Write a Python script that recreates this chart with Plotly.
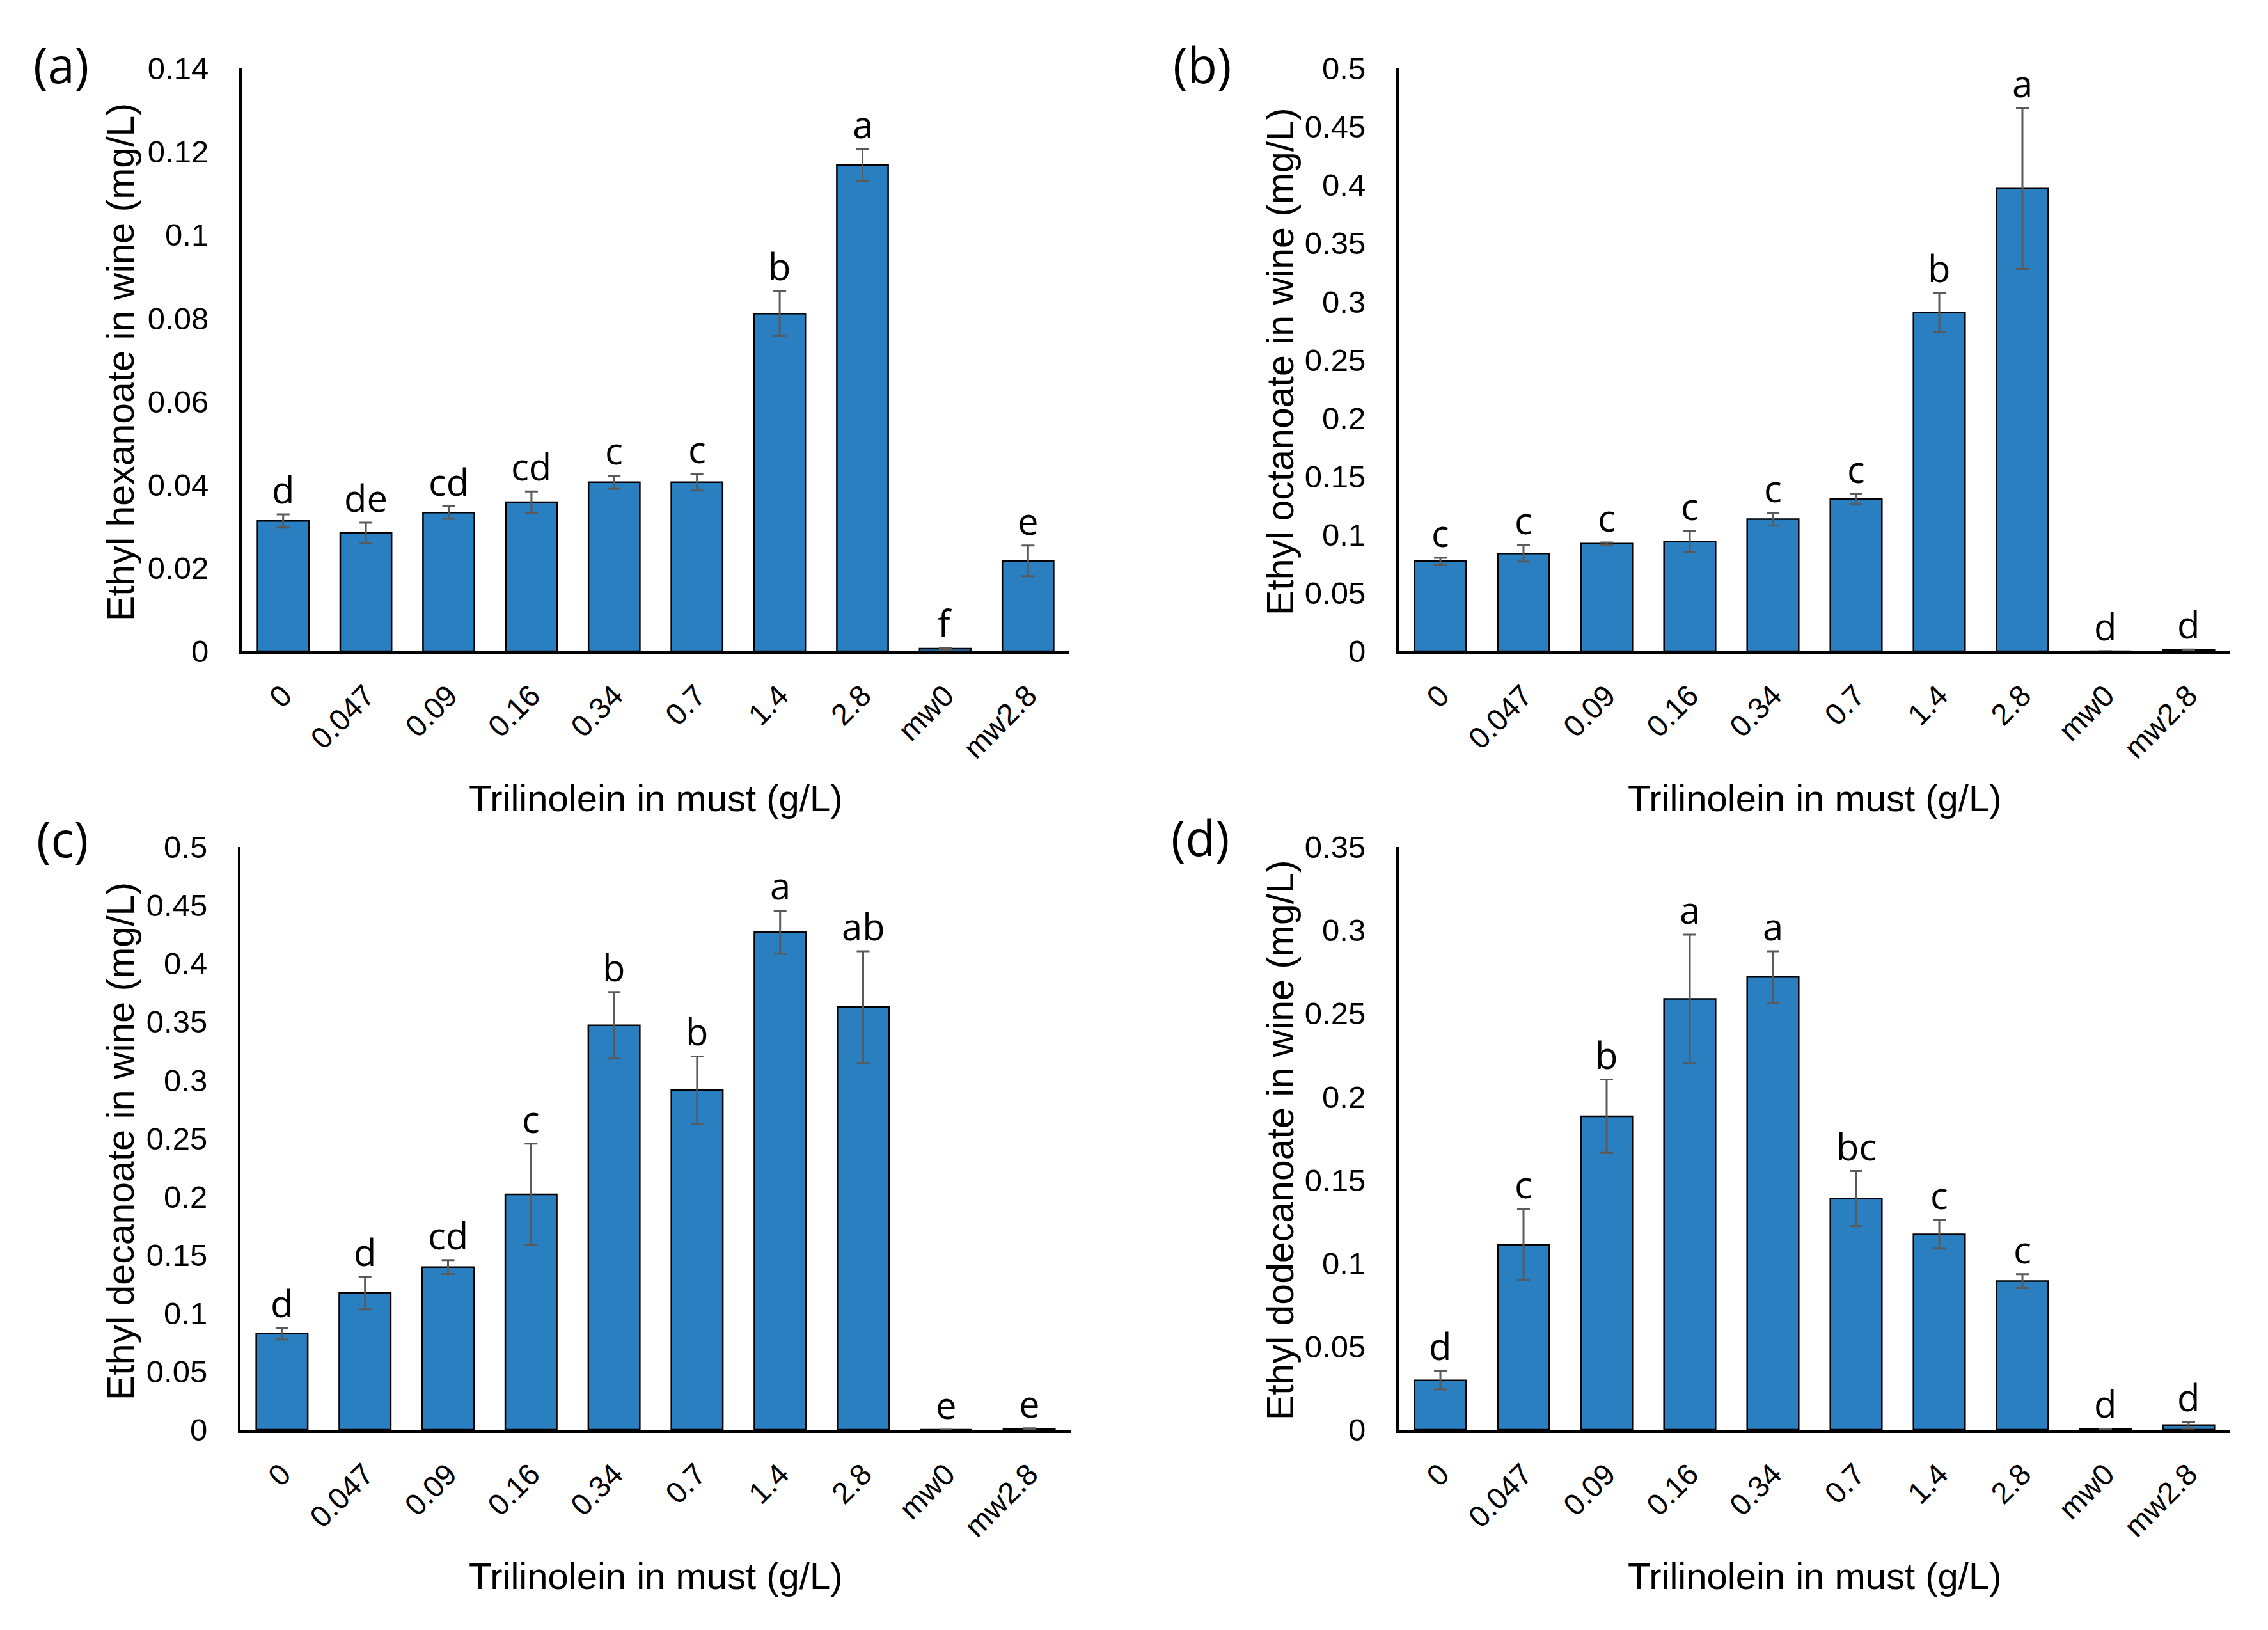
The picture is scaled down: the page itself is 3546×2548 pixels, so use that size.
import plotly.graph_objects as go

# ---------------- data ----------------
categories = ["0", "0.047", "0.09", "0.16", "0.34", "0.7", "1.4", "2.8", "mw0", "mw2.8"]

hexanoate = [0.0313, 0.0284, 0.0333, 0.0358, 0.0406, 0.0406, 0.0811, 0.1168, 0.0006, 0.0217]
hexanoate_err = [0.0016, 0.0025, 0.0015, 0.0026, 0.0016, 0.0020, 0.0054, 0.0039, 0.0002, 0.0037]
hexanoate_letters = ["d", "de", "cd", "cd", "c", "c", "b", "a", "f", "e"]

octanoate = [0.0772, 0.0839, 0.0923, 0.0941, 0.1133, 0.1307, 0.2908, 0.3970, 0.0, 0.0010]
octanoate_err = [0.0030, 0.0070, 0.0010, 0.0090, 0.0054, 0.0045, 0.0167, 0.0690, 0.0, 0.0005]
octanoate_letters = ["c", "c", "c", "c", "c", "c", "b", "a", "d", "d"]

decanoate = [0.0825, 0.1173, 0.1396, 0.2020, 0.3470, 0.2913, 0.4269, 0.3626, 0.0, 0.0008]
decanoate_err = [0.0050, 0.0140, 0.0060, 0.0435, 0.0285, 0.0290, 0.0185, 0.0480, 0.0, 0.0004]
decanoate_letters = ["d", "d", "cd", "c", "b", "b", "a", "ab", "e", "e"]

dodecanoate = [0.0297, 0.1111, 0.1883, 0.2588, 0.2719, 0.1389, 0.1174, 0.0893, 0.0003, 0.0028]
dodecanoate_err = [0.0055, 0.0214, 0.0220, 0.0386, 0.0155, 0.0165, 0.0086, 0.0042, 0.0003, 0.0020]
dodecanoate_letters = ["d", "c", "b", "a", "a", "bc", "c", "c", "d", "d"]

ticks_a = [0, 0.02, 0.04, 0.06, 0.08, 0.1, 0.12, 0.14]
ticks_a_text = ["0", "0.02", "0.04", "0.06", "0.08", "0.1", "0.12", "0.14"]
ticks_bc = [0, 0.05, 0.1, 0.15, 0.2, 0.25, 0.3, 0.35, 0.4, 0.45, 0.5]
ticks_bc_text = ["0", "0.05", "0.1", "0.15", "0.2", "0.25", "0.3", "0.35", "0.4", "0.45", "0.5"]
ticks_d = [0, 0.05, 0.1, 0.15, 0.2, 0.25, 0.3, 0.35]
ticks_d_text = ["0", "0.05", "0.1", "0.15", "0.2", "0.25", "0.3", "0.35"]

y_titles = ["Ethyl hexanoate in wine (mg/L)", "Ethyl octanoate in wine (mg/L)",
            "Ethyl decanoate in wine (mg/L)", "Ethyl dodecanoate in wine (mg/L)"]
x_title = "Trilinolein in must (g/L)"
panel_labels = ["(a)", "(b)", "(c)", "(d)"]

# ---------------- styling ----------------
W, H = 3546, 2548
BAR = "#2A7FC0"
ERR = "#5A5A5A"
AX_FONT = "Liberation Sans, Arial, sans-serif"
LET_FONT = "Open Sans, Segoe UI, sans-serif"

panels = [
    dict(vals=hexanoate, err=hexanoate_err, let=hexanoate_letters, ymax=0.14,
         tv=ticks_a, tt=ticks_a_text, xd=[378 / W, 1672 / W], yd=[1 - 1018 / H, 1 - 107 / H]),
    dict(vals=octanoate, err=octanoate_err, let=octanoate_letters, ymax=0.5,
         tv=ticks_bc, tt=ticks_bc_text, xd=[2187 / W, 3487 / W], yd=[1 - 1018 / H, 1 - 107 / H]),
    dict(vals=decanoate, err=decanoate_err, let=decanoate_letters, ymax=0.5,
         tv=ticks_bc, tt=ticks_bc_text, xd=[376 / W, 1674 / W], yd=[1 - 2235 / H, 1 - 1324 / H]),
    dict(vals=dodecanoate, err=dodecanoate_err, let=dodecanoate_letters, ymax=0.35,
         tv=ticks_d, tt=ticks_d_text, xd=[2187 / W, 3487 / W], yd=[1 - 2235 / H, 1 - 1324 / H]),
]

ytitle_pos = [(189 / W, 1 - 566 / H), (2002 / W, 1 - 565 / H),
              (189 / W, 1 - 1784 / H), (2002 / W, 1 - 1782 / H)]
label_pos = [(95 / W, 1 - 101 / H), (1880 / W, 1 - 101 / H),
             (97 / W, 1 - 1310 / H), (1877 / W, 1 - 1308 / H)]

fig = go.Figure()
annotations = []
layout = dict(width=W, height=H, margin=dict(l=0, r=0, t=0, b=0, pad=0),
              autosize=False,
              paper_bgcolor="white", plot_bgcolor="rgba(0,0,0,0)",
              showlegend=False, bargap=0.38)

for i, p in enumerate(panels):
    n = "" if i == 0 else str(i + 1)
    xa, ya = "x" + n, "y" + n
    fig.add_trace(go.Bar(
        x=categories, y=p["vals"], xaxis=xa, yaxis=ya,
        marker=dict(color=BAR, line=dict(color="black", width=2.5)),
        error_y=dict(type="data", array=p["err"], visible=True,
                     color=ERR, thickness=3, width=10),
    ))
    layout["xaxis" + n] = dict(
        domain=p["xd"], anchor=ya, type="category", range=[-0.5, 9.5],
        showline=True, linecolor="black", linewidth=5, ticks="",
        tickangle=-45, tickfont=dict(family=AX_FONT, size=47, color="black"),
        showgrid=False, zeroline=False, fixedrange=True, ticklabelstandoff=18,
        automargin=False,
    )
    layout["yaxis" + n] = dict(
        domain=p["yd"], anchor=xa, range=[0, p["ymax"]],
        tickvals=p["tv"], ticktext=p["tt"],
        showline=True, linecolor="black", linewidth=4, ticks="",
        tickfont=dict(family=AX_FONT, size=49, color="black"),
        showgrid=False, zeroline=False, fixedrange=True, ticklabelstandoff=38,
        automargin=False,
    )
    # significance letters (category index positions)
    for k, (v, e, t) in enumerate(zip(p["vals"], p["err"], p["let"])):
        annotations.append(dict(
            x=k, y=v + e, xref=xa, yref=ya, text=t, showarrow=False,
            yanchor="bottom", xanchor="center", yshift=-2,
            font=dict(family=LET_FONT, size=58, color="black"),
        ))
    # y title
    annotations.append(dict(
        x=ytitle_pos[i][0], y=ytitle_pos[i][1], xref="paper", yref="paper",
        text=y_titles[i], textangle=-90, showarrow=False,
        xanchor="center", yanchor="middle",
        font=dict(family=AX_FONT, size=59, color="black"),
    ))
    # x title
    xmid = (p["xd"][0] + p["xd"][1]) / 2
    ybot = p["yd"][0]
    annotations.append(dict(
        x=xmid, y=ybot - 229 / H, xref="paper", yref="paper",
        text=x_title, showarrow=False, xanchor="center", yanchor="middle",
        font=dict(family=AX_FONT, size=58, color="black"),
    ))
    # panel label
    annotations.append(dict(
        x=label_pos[i][0], y=label_pos[i][1], xref="paper", yref="paper",
        text=panel_labels[i], showarrow=False, xanchor="center", yanchor="middle",
        font=dict(family=LET_FONT, size=76, color="black"),
    ))

layout["annotations"] = annotations
fig.update_layout(**layout)
fig.write_html(
    "out.html",
    config={"displayModeBar": False, "staticPlot": True},
    post_script="document.body.style.margin='0';document.body.style.padding='0';"
                "document.documentElement.style.overflow='hidden';",
)
